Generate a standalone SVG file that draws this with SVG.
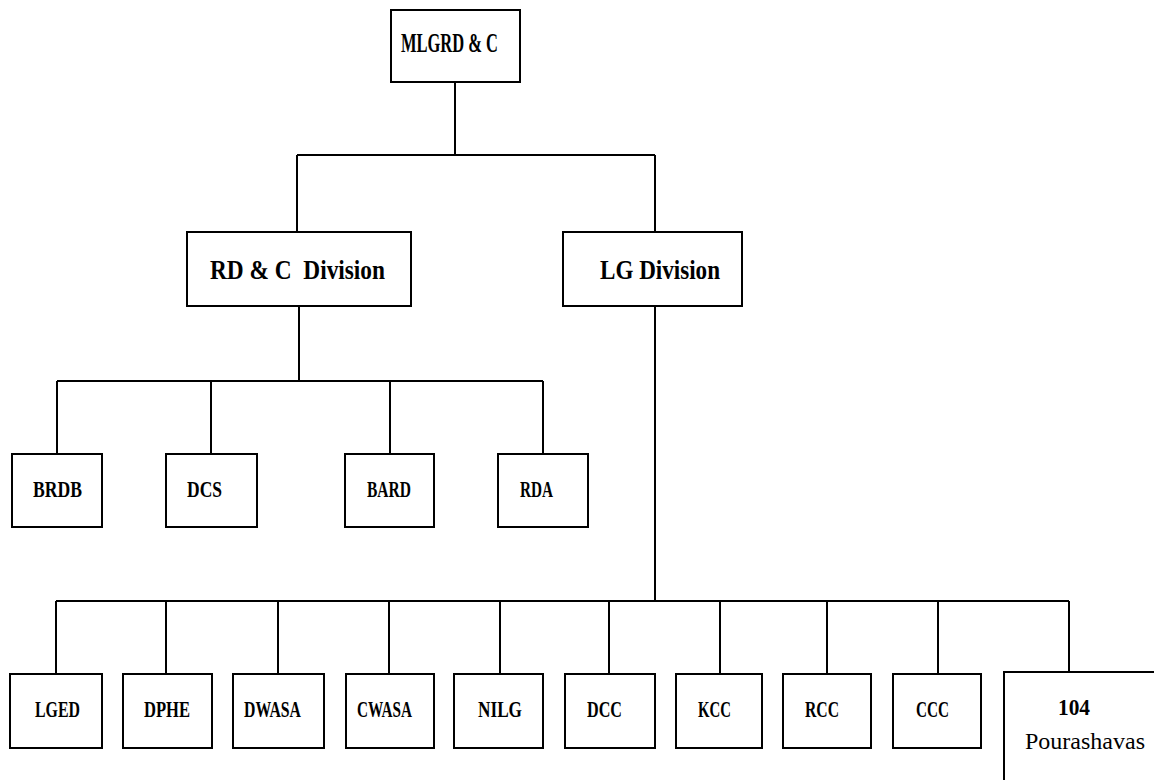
<svg xmlns="http://www.w3.org/2000/svg" width="1154" height="780" viewBox="0 0 1154 780">
<style>
.box{fill:#fff;stroke:#000;stroke-width:2}
.c{fill:none;stroke:#000;stroke-width:2}
text{font-family:"Liberation Serif","Times New Roman",serif;fill:#000}
.b{font-weight:bold;font-size:24px}
.h{font-weight:bold;font-size:27px}
.n{font-size:23px}
</style>
<rect width="1154" height="780" fill="#fff"/>
<g id="connectors">
<path class="c" d="M455,82 V155 M297,155 H655 M297,155 V232 M655,155 V232"/>
<path class="c" d="M299,306 V381 M57,381 H543 M57,381 V454 M211,381 V454 M390,381 V454 M543,381 V454"/>
<path class="c" d="M655,306 V601 M56,601 H1069 M56,601 V674 M166,601 V674 M278,601 V674 M389,601 V674 M500,601 V674 M609,601 V674 M720,601 V674 M827,601 V674 M938,601 V674 M1069,601 V672"/>
</g>
<g id="mlgrd"><rect class="box" x="391" y="10" width="129" height="72"/><text class="h" x="401" y="52" textLength="97" lengthAdjust="spacingAndGlyphs">MLGRD &amp; C</text></g>
<g id="rdc"><rect class="box" x="187" y="232" width="224" height="74"/><text class="h" x="210" y="279" textLength="175" lengthAdjust="spacingAndGlyphs" xml:space="preserve">RD &amp; C  Division</text></g>
<g id="lg"><rect class="box" x="563" y="232" width="179" height="74"/><text class="h" x="600" y="279" textLength="120" lengthAdjust="spacingAndGlyphs">LG Division</text></g>
<g id="brdb"><rect class="box" x="12" y="454" width="90" height="73"/><text class="b" x="33" y="497" textLength="49" lengthAdjust="spacingAndGlyphs">BRDB</text></g>
<g id="dcs"><rect class="box" x="166" y="454" width="91" height="73"/><text class="b" x="187" y="497" textLength="35" lengthAdjust="spacingAndGlyphs">DCS</text></g>
<g id="bard"><rect class="box" x="345" y="454" width="89" height="73"/><text class="b" x="367" y="497" textLength="44" lengthAdjust="spacingAndGlyphs">BARD</text></g>
<g id="rda"><rect class="box" x="498" y="454" width="90" height="73"/><text class="b" x="520" y="497" textLength="33" lengthAdjust="spacingAndGlyphs">RDA</text></g>
<g id="lged"><rect class="box" x="10" y="674" width="92" height="74"/><text class="b" x="35" y="717" textLength="45" lengthAdjust="spacingAndGlyphs">LGED</text></g>
<g id="dphe"><rect class="box" x="123" y="674" width="89" height="74"/><text class="b" x="144" y="717" textLength="46" lengthAdjust="spacingAndGlyphs">DPHE</text></g>
<g id="dwasa"><rect class="box" x="233" y="674" width="91" height="74"/><text class="b" x="244" y="717" textLength="57" lengthAdjust="spacingAndGlyphs">DWASA</text></g>
<g id="cwasa"><rect class="box" x="346" y="674" width="88" height="74"/><text class="b" x="357" y="717" textLength="55" lengthAdjust="spacingAndGlyphs">CWASA</text></g>
<g id="nilg"><rect class="box" x="454" y="674" width="89" height="74"/><text class="b" x="478" y="717" textLength="44" lengthAdjust="spacingAndGlyphs">NILG</text></g>
<g id="dcc"><rect class="box" x="565" y="674" width="90" height="74"/><text class="b" x="587" y="717" textLength="35" lengthAdjust="spacingAndGlyphs">DCC</text></g>
<g id="kcc"><rect class="box" x="676" y="674" width="86" height="74"/><text class="b" x="698" y="717" textLength="33" lengthAdjust="spacingAndGlyphs">KCC</text></g>
<g id="rcc"><rect class="box" x="783" y="674" width="88" height="74"/><text class="b" x="805" y="717" textLength="34" lengthAdjust="spacingAndGlyphs">RCC</text></g>
<g id="ccc"><rect class="box" x="893" y="674" width="88" height="74"/><text class="b" x="916" y="717" textLength="33" lengthAdjust="spacingAndGlyphs">CCC</text></g>
<g id="pourashavas"><path class="c" d="M1004,782 V672 H1156"/><text class="b" x="1058" y="715" textLength="32" lengthAdjust="spacingAndGlyphs">104</text><text class="n" x="1025" y="749" textLength="120" lengthAdjust="spacingAndGlyphs">Pourashavas</text></g>
</svg>
